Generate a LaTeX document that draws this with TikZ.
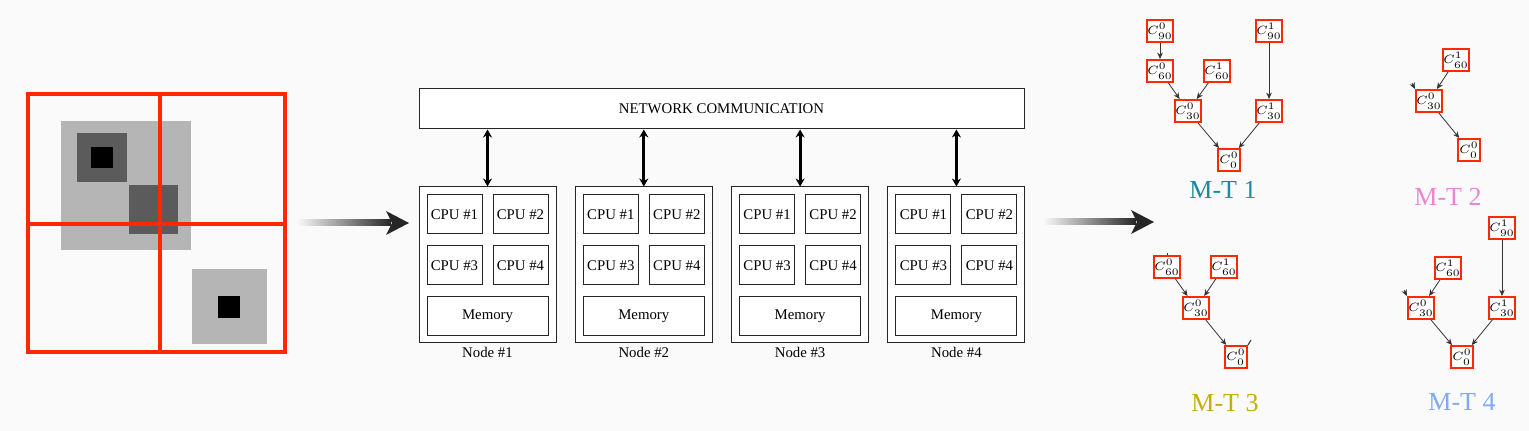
\documentclass[tikz,border=0pt]{standalone}
\usepackage[no-math]{fontspec}
\setmainfont{Liberation Serif}
\usetikzlibrary{arrows.meta}
\definecolor{redb}{RGB}{255,40,0}
\definecolor{bgc}{RGB}{250,250,250}
\definecolor{lgray}{RGB}{181,181,181}
\definecolor{dgray}{RGB}{91,91,91}
\definecolor{mtone}{RGB}{24,138,164}
\definecolor{mttwo}{RGB}{232,134,210}
\definecolor{mtthree}{RGB}{196,176,0}
\definecolor{mtfour}{RGB}{128,170,245}
\begin{document}
\begin{tikzpicture}[x=0.5pt,y=-0.5pt,
  box/.style={draw=black!85, line width=0.5pt, inner sep=0pt, fill=white},
  txt/.style={font=\fontsize{7.4}{8}\selectfont},
  cpu/.style={box, txt, minimum width=27.5pt, minimum height=19.5pt},
  mem/.style={box, txt, minimum width=60.5pt, minimum height=19.5pt},
  cn/.style={draw=redb, line width=1pt, fill=white, inner sep=0.3pt, minimum size=11pt, font=\fontsize{6}{7}\selectfont},
  tarr/.style={-{Stealth[length=3.2pt,width=2.8pt]}, line width=0.4pt, black!80},
  mt/.style={font=\fontsize{13}{14}\selectfont},
  redl/.style={draw=redb, line width=2pt}]
\fill[bgc] (0,0) rectangle (1529,431);
\useasboundingbox (0,0) rectangle (1529,431);

% ---- left image ----
\fill[lgray] (61,121) rectangle (191,250);
\fill[dgray] (77,133) rectangle (127,182);
\fill[black] (91,147) rectangle (113,168);
\fill[dgray] (129,185) rectangle (178,234);
\fill[lgray] (192,269) rectangle (267,344);
\fill[black] (218,296) rectangle (240,318);
\draw[redl] (28,94) rectangle (285,352);
\draw[redl] (160,94) -- (160,352);
\draw[redl] (28,224) -- (285,224);
\coordinate (img) at (285,223);

% ---- gradient arrow 1 ----
\shade[left color=bgc, right color=black!85] (297,220) rectangle (391,226);
\fill[black!85] (386,211) -- (409,223) -- (386,235) -- (392,223) -- cycle;

% ---- network ----
\node[box, txt, minimum width=302.5pt, minimum height=20pt] (net) at (721.5,109) {NETWORK COMMUNICATION};
\foreach \i in {1,...,4}{
  \pgfmathsetmacro{\cx}{487.5+156.3*(\i-1)}
  \node[box, minimum width=68.5pt, minimum height=78pt] (n\i) at (\cx,265) {};
  \node[cpu] (c\i a) at (\cx-33,214.5) {CPU \#1};
  \node[cpu] (c\i b) at (\cx+33,214.5) {CPU \#2};
  \node[cpu] (c\i c) at (\cx-33,265.5) {CPU \#3};
  \node[cpu] (c\i d) at (\cx+33,265.5) {CPU \#4};
  \node[mem] (m\i) at (\cx,316.5) {Memory};
  \node[txt, inner sep=0pt] (l\i) at (\cx,352.5) {Node \#\i};
  \draw[{Stealth[length=4pt,width=4.5pt]}-{Stealth[length=4pt,width=4.5pt]}, line width=1.4pt] (n\i.north |- net.south) -- (n\i.north);
}

% ---- gradient arrow 2 ----
\shade[left color=bgc, right color=black!85] (1043,219) rectangle (1136,225);
\fill[black!85] (1131,210) -- (1154,222) -- (1131,234) -- (1137,222) -- cycle;

% ---- M-T 1 ----
\node[cn] (a90) at (1160,31) {$C^{0}_{90}$};
\node[cn] (a60) at (1160,71) {$C^{0}_{60}$};
\node[cn] (a61) at (1217,71) {$C^{1}_{60}$};
\node[cn] (a91) at (1269,31) {$C^{1}_{90}$};
\node[cn] (a30) at (1188,111) {$C^{0}_{30}$};
\node[cn] (a31) at (1269,111) {$C^{1}_{30}$};
\node[cn] (a0) at (1229,160) {$C^{0}_{0}$};
\draw[tarr] (a90) -- (a60);
\draw[tarr] (a60) -- (a30);
\draw[tarr] (a61) -- (a30);
\draw[tarr] (a91) -- (a31);
\draw[tarr] (a30) -- (a0);
\draw[tarr] (a31) -- (a0);
\node[mt, text=mtone] (t1) at (1223,190) {M-T 1};

% ---- M-T 2 ----
\node[cn] (b61) at (1456,60) {$C^{1}_{60}$};
\node[cn] (b30) at (1429,101) {$C^{0}_{30}$};
\node[cn] (b0) at (1469,150) {$C^{0}_{0}$};
\coordinate (bs) at (1412,83);
\draw[tarr] (b61) -- (b30);
\draw[tarr] (b30) -- (b0);
\draw[tarr] (bs) -- (b30.north west);
\node[mt, text=mttwo] (t2) at (1448,197) {M-T 2};

% ---- M-T 3 ----
\node[cn] (c60) at (1167,267) {$C^{0}_{60}$};
\node[cn] (c61) at (1224,267) {$C^{1}_{60}$};
\node[cn] (c30) at (1196,308) {$C^{0}_{30}$};
\node[cn] (c0) at (1236,357) {$C^{0}_{0}$};
\coordinate (cs1) at (1167,253);
\coordinate (cs2) at (1251,340);
\draw[tarr] (c60) -- (c30);
\draw[tarr] (c61) -- (c30);
\draw[tarr] (c30) -- (c0);
\draw[line width=0.5pt, black!80] (cs1) -- (c60.north);
\draw[line width=0.5pt, black!80] (cs2) -- (c0.north east);
\node[mt, text=mtthree] (t3) at (1225,403) {M-T 3};

% ---- M-T 4 ----
\node[cn] (d91) at (1502,228) {$C^{1}_{90}$};
\node[cn] (d61) at (1448,268) {$C^{1}_{60}$};
\node[cn] (d30) at (1421,308) {$C^{0}_{30}$};
\node[cn] (d31) at (1502,308) {$C^{1}_{30}$};
\node[cn] (d0) at (1462,357) {$C^{0}_{0}$};
\coordinate (ds) at (1404,290);
\draw[tarr] (d91) -- (d31);
\draw[tarr] (d61) -- (d30);
\draw[tarr] (d30) -- (d0);
\draw[tarr] (d31) -- (d0);
\draw[tarr] (ds) -- (d30.north west);
\node[mt, text=mtfour] (t4) at (1462,402) {M-T 4};
\end{tikzpicture}
\end{document}
